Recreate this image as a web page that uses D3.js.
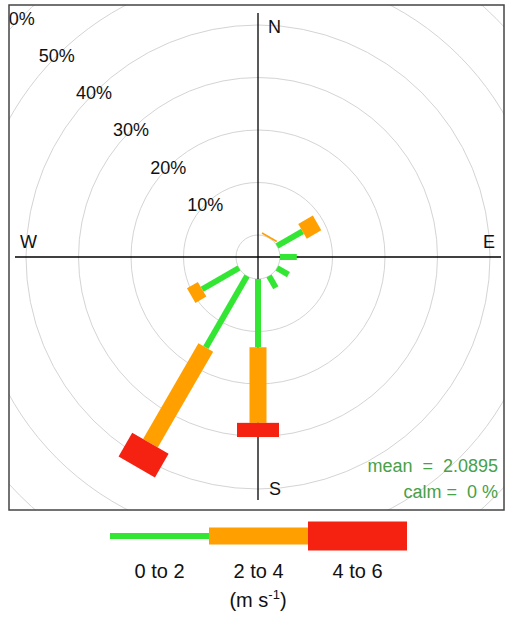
<!DOCTYPE html>
<html><head><meta charset="utf-8">
<script src="https://cdn.jsdelivr.net/npm/d3@7"></script>
<style>body{margin:0;background:#fff}svg{display:block}text{font-family:"Liberation Sans",Arial,sans-serif}</style>
</head><body>
<script>
const directions = [0, 30, 60, 90, 120, 150, 180, 210, 240, 270, 300, 330];
const bins = ["0 to 2", "2 to 4", "4 to 6"];
const freq0to2 = [0, 0, 5.6, 3.2, 2.5, 2.6, 13.0, 15.7, 8.1, 0, 0, 0];
const freq2to4 = [0, 0.3, 3.2, 0, 0, 0, 14.4, 21.1, 2.4, 0, 0, 0];
const freq4to6 = [0, 0, 0, 0, 0, 0, 2.7, 5.2, 0, 0, 0, 0];
const gridTicks = [10, 20, 30, 40, 50, 60];
const compass = [["N", 0], ["E", 90], ["S", 180], ["W", 270]];
const meanText = "mean  =  2.0895";
const calmText = "calm =  0 %";
const unitLabel = ["(m s", "-1", ")"];

const W = 507, H = 621;
const cx = 258, cy = 257;
const colors = ["#33e633", "#ffa000", "#f52212"];
const barW = [6, 17, 42];
const legW = [6, 17, 29];

const svg = d3.select("body").append("svg").attr("width", W).attr("height", H);
const r = d3.scaleLinear().domain([0, 60]).range([22, 337]);

svg.append("clipPath").attr("id", "panel").append("rect")
  .attr("x", 9).attr("y", 5).attr("width", 495).attr("height", 505);
const g = svg.append("g").attr("clip-path", "url(#panel)");
const c = g.append("g").attr("transform", `translate(${cx},${cy})`);

// grid circles
c.selectAll("circle.grid").data([0].concat(gridTicks)).join("circle")
  .attr("r", d => r(d)).attr("fill", "none").attr("stroke", "#d4d4d4").attr("stroke-width", 1);

// axis lines
c.append("line").attr("x1", 0).attr("x2", 0).attr("y1", -244).attr("y2", 243).attr("stroke", "#000").attr("stroke-width", 1.3);
c.append("line").attr("x1", -243).attr("x2", 243).attr("y1", 0).attr("y2", 0).attr("stroke", "#000").attr("stroke-width", 1.3);

// grid labels along NW
c.selectAll("text.tick").data(gridTicks).join("text")
  .attr("x", d => -r(d) * Math.SQRT1_2 - (d === 60 ? 3 : 0)).attr("y", d => -r(d) * Math.SQRT1_2)
  .attr("dy", "0.35em").attr("text-anchor", "middle").attr("font-size", 18).attr("fill", "#111")
  .text(d => d + "%");

// compass labels
const cpos = {N: [10, -224, "start"], S: [11, 238, "start"], E: [237, -9, "end"], W: [-238, -9, "start"]};
c.selectAll("text.comp").data(compass).join("text")
  .attr("x", d => cpos[d[0]][0]).attr("y", d => cpos[d[0]][1])
  .attr("text-anchor", d => cpos[d[0]][2]).attr("font-size", 18).attr("fill", "#111")
  .text(d => d[0]);

// paddles
const series = [freq0to2, freq2to4, freq4to6];
directions.forEach((dir, i) => {
  let cum = 0;
  series.forEach((s, k) => {
    const v = s[i];
    if (v > 0) {
      const r1 = r(cum), r2 = r(cum + v);
      c.append("rect")
        .attr("transform", `rotate(${dir})`)
        .attr("x", -barW[k] / 2).attr("width", barW[k])
        .attr("y", -r2).attr("height", r2 - r1)
        .attr("fill", colors[k]);
    }
    cum += v;
  });
});

// mean / calm
g.append("text").attr("x", 498).attr("y", 472).attr("text-anchor", "end").attr("font-size", 18).attr("fill", "#48a048").style("white-space", "pre").text(meanText);
g.append("text").attr("x", 498).attr("y", 498).attr("text-anchor", "end").attr("font-size", 18).attr("fill", "#48a048").style("white-space", "pre").text(calmText);

// panel border
svg.append("rect").attr("x", 9).attr("y", 5).attr("width", 495).attr("height", 505)
  .attr("fill", "none").attr("stroke", "#444").attr("stroke-width", 1.5);

// legend
const lx = d3.scaleBand().domain(bins).range([110, 407]);
const ly = 536;
svg.selectAll("rect.leg").data(bins).join("rect")
  .attr("x", d => lx(d)).attr("width", lx.bandwidth())
  .attr("y", (d, i) => ly - legW[i] / 2).attr("height", (d, i) => legW[i])
  .attr("fill", (d, i) => colors[i]);
svg.selectAll("text.leg").data(bins).join("text")
  .attr("x", d => lx(d) + lx.bandwidth() / 2).attr("y", 578)
  .attr("text-anchor", "middle").attr("font-size", 20).attr("fill", "#111")
  .text(d => d);
const ut = svg.append("text").attr("x", 258).attr("y", 607).attr("text-anchor", "middle").attr("font-size", 20).attr("fill", "#111");
ut.append("tspan").text(unitLabel[0]);
ut.append("tspan").attr("dy", -8).attr("font-size", 13).text(unitLabel[1]);
ut.append("tspan").attr("dy", 8).text(unitLabel[2]);
</script>
</body></html>
